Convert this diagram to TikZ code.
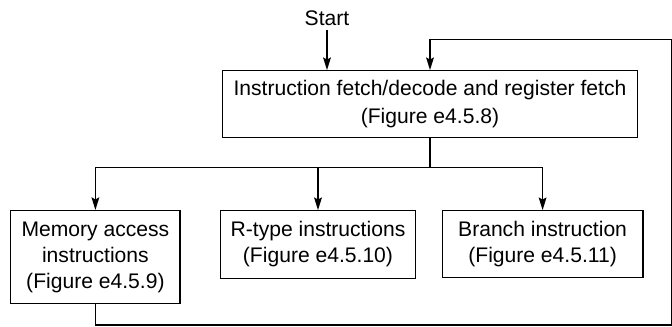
\documentclass[tikz,border=0pt]{standalone}
\usepackage{fontspec}
\setmainfont{Liberation Sans}
\usetikzlibrary{arrows.meta, positioning, calc}
\tikzset{
  caja/.style={rectangle, draw=black, line width=0.8pt, text centered, align=center,
               font=\fontsize{15}{18.5}\selectfont, inner sep=2pt},
  arrow/.style={line width=1pt,-{Stealth[length=9pt,width=5.5pt,inset=1.5pt]},color=black},
  linea/.style={line width=1pt,color=black}
}
\begin{document}
\begin{tikzpicture}[x=0.025cm, y=-0.025cm]
  \useasboundingbox (0,0) rectangle (672,327);
  \node (start) [font=\fontsize{15}{18}\selectfont] at (327,18) {Start};
  \node (fetch) [caja, font=\fontsize{15}{20}\selectfont, minimum width=10.38cm, minimum height=1.675cm] at (430,104.2)
        {Instruction fetch/decode and register fetch\\(Figure e4.5.8)};
  \node (mem) [caja, minimum width=4.23cm, minimum height=2.32cm] at (95.4,257)
        {Memory access\\instructions\\(Figure e4.5.9)};
  \node (rtype) [caja, minimum width=4.875cm, minimum height=1.69cm] at (318,244.5)
        {R-type instructions\\(Figure e4.5.10)};
  \node (branch) [caja, minimum width=5.02cm, minimum height=1.665cm] at (542.6,244)
        {Branch instruction\\(Figure e4.5.11)};
  \coordinate (split) at (430,167.3);
  \coordinate (abajo) at (95.4,325);
  \coordinate (esq1) at (671.5,325);
  \coordinate (esq2) at (671.5,39.3);
  \coordinate (vuelta) at (430,39.3);
  \draw [arrow] (start) -- (start |- fetch.north);
  \draw [linea] (fetch.south -| split) -- (split);
  \draw [arrow] (split) -| (mem);
  \draw [arrow] (split) -| (rtype);
  \draw [arrow] (split) -| (branch);
  \draw [arrow] (mem) -- (abajo) -- (esq1) -- (esq2) -- (vuelta) -- (vuelta |- fetch.north);
\end{tikzpicture}
\end{document}
